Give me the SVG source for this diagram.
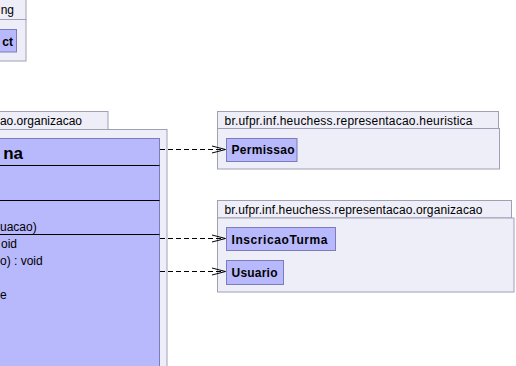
<svg xmlns="http://www.w3.org/2000/svg" width="516" height="366" viewBox="0 0 516 366">
  <style>
    .pkg { fill: #eeeef9; stroke: #a0a0b4; stroke-width: 1; }
    .cls { fill: #b8b8fc; stroke: #7c7cb8; stroke-width: 1; }
    .sep { stroke: #000000; stroke-width: 1; }
    .ptxt { font-family: "Liberation Sans", Arial, sans-serif; font-size: 12px; fill: #000000; }
    .ctxt { font-family: "Liberation Sans", Arial, sans-serif; font-size: 12px; font-weight: bold; fill: #000000; }
    .mtxt { font-family: "Liberation Sans", Arial, sans-serif; font-size: 12px; fill: #000000; }
    .dep { stroke: #000000; stroke-width: 1; stroke-dasharray: 5 3; fill: none; }
    .head { stroke: #000000; stroke-width: 1; fill: none; }
  </style>
  <rect width="516" height="366" fill="#ffffff"/>

  <!-- package at top left -->
  <g id="pkg-top-left">
    <rect class="pkg" x="-10" y="-10" width="36" height="29.5"/>
    <rect class="pkg" x="-10" y="19.5" width="36" height="41.5"/>
    <text class="ptxt" x="14" y="14" text-anchor="end">ng</text>
    <rect class="cls" x="-10" y="29.5" width="26.5" height="22.5"/>
    <text class="ctxt" x="13" y="46" text-anchor="end">ct</text>
  </g>

  <!-- organizacao package holding the main class -->
  <g id="pkg-organizacao-main">
    <rect class="pkg" x="-10" y="111.5" width="118" height="18"/>
    <rect class="pkg" x="-10" y="129.5" width="177" height="250"/>
    <text class="ptxt" x="82" y="124.5" text-anchor="end">ao.organizacao</text>
  </g>
  <g id="class-main">
    <rect class="cls" x="-10" y="138.5" width="169.5" height="240"/>
    <text class="ctxt" x="23" y="159" text-anchor="end" style="font-size:17px">na</text>
    <line class="sep" x1="-10" y1="165.5" x2="159.5" y2="165.5"/>
    <line class="sep" x1="-10" y1="200.5" x2="159.5" y2="200.5"/>
    <text class="mtxt" x="0" y="231">uacao)</text>
    <line class="sep" x1="-10" y1="234.5" x2="159.5" y2="234.5"/>
    <text class="mtxt" x="1" y="248">oid</text>
    <text class="mtxt" x="0" y="265">o) : void</text>
    <text class="mtxt" x="0" y="299">e</text>
  </g>

  <!-- heuristica package -->
  <g id="pkg-heuristica">
    <rect class="pkg" x="217.5" y="111.5" width="281" height="17"/>
    <rect class="pkg" x="217.5" y="128.5" width="282" height="40.5"/>
    <text class="ptxt" x="224.5" y="125" textLength="248">br.ufpr.inf.heuchess.representacao.heuristica</text>
  </g>
  <g id="class-permissao">
    <rect class="cls" x="226.5" y="138.5" width="70.5" height="23"/>
    <text class="ctxt" x="231.5" y="154" textLength="63">Permissao</text>
  </g>

  <!-- organizacao package on the right -->
  <g id="pkg-organizacao">
    <rect class="pkg" x="217.5" y="200.5" width="294" height="17.5"/>
    <rect class="pkg" x="217.5" y="218" width="296.5" height="74"/>
    <text class="ptxt" x="224.5" y="214" textLength="258">br.ufpr.inf.heuchess.representacao.organizacao</text>
  </g>
  <g id="class-inscricaoturma">
    <rect class="cls" x="226.5" y="227.5" width="109" height="23"/>
    <text class="ctxt" x="231.5" y="244" textLength="96">InscricaoTurma</text>
  </g>
  <g id="class-usuario">
    <rect class="cls" x="226.5" y="260.5" width="57" height="24"/>
    <text class="ctxt" x="231.5" y="277" textLength="46">Usuario</text>
  </g>

  <!-- dependencies -->
  <g id="connectors">
    <line class="dep" x1="160" y1="149.5" x2="225" y2="149.5"/>
    <polyline class="head" points="212,146 225.5,149.5 212,153"/>
    <line class="dep" x1="160" y1="238.5" x2="225" y2="238.5"/>
    <polyline class="head" points="212,235 225.5,238.5 212,242"/>
    <line class="dep" x1="160" y1="271.5" x2="225" y2="271.5"/>
    <polyline class="head" points="212,268 225.5,271.5 212,275"/>
  </g>
</svg>
